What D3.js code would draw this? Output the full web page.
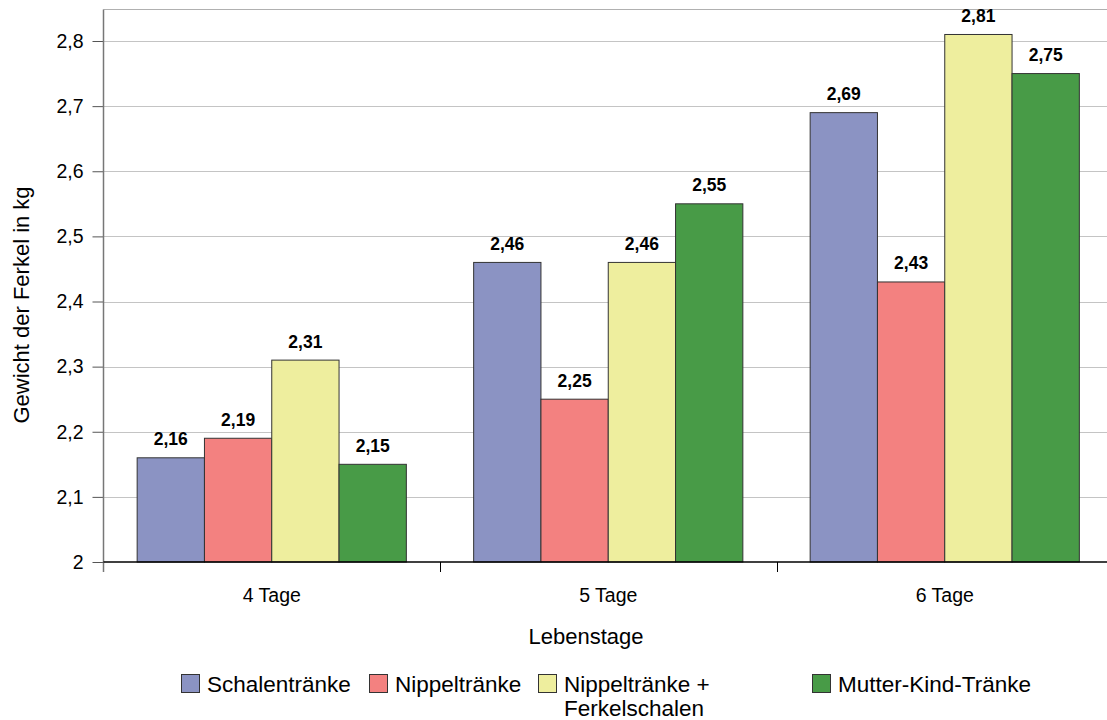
<!DOCTYPE html>
<html>
<head>
<meta charset="utf-8">
<script src="https://cdn.jsdelivr.net/npm/d3@7"></script>
<style>
  html, body { margin: 0; padding: 0; background: #fff; }
  svg { display: block; font-family: "Liberation Sans", Arial, sans-serif; }
</style>
</head>
<body>
<svg id="chart" width="1107" height="720"></svg>
<script>
// Ferkelgewicht nach Tränkesystem und Lebenstag
const categories = ["4 Tage", "5 Tage", "6 Tage"];
const seriesNames = ["Schalentränke", "Nippeltränke", "Nippeltränke + Ferkelschalen", "Mutter-Kind-Tränke"];
const schalentraenke = [2.16, 2.46, 2.69];
const nippeltraenke = [2.19, 2.25, 2.43];
const nippelFerkelschalen = [2.31, 2.46, 2.81];
const mutterKind = [2.15, 2.55, 2.75];
const yTicks = [2, 2.1, 2.2, 2.3, 2.4, 2.5, 2.6, 2.7, 2.8];
const colors = ["#8b93c3", "#f38180", "#eeee9e", "#489b47"];

const seriesValues = [schalentraenke, nippeltraenke, nippelFerkelschalen, mutterKind];

const svg = d3.select("#chart");
const plotLeft = 103.5, plotRight = 1113, plotTop = 9.5, plotBottom = 562;

const x = d3.scaleBand().domain(categories).range([plotLeft, plotRight]).paddingInner(0.2).paddingOuter(0.1);
const xs = d3.scaleBand().domain(d3.range(seriesNames.length)).range([0, x.bandwidth()]);
const y = d3.scaleLinear().domain([2, 2.8]).range([plotBottom, 41]);

const fmt = v => d3.format(".2f")(v).replace(".", ",");
const fmtTick = v => d3.format("~g")(v).replace(".", ",");

// horizontal grid
svg.append("g").selectAll("line").data(yTicks.slice(1)).join("line")
  .attr("x1", plotLeft).attr("x2", 1107)
  .attr("y1", d => Math.round(y(d)) + 0.5).attr("y2", d => Math.round(y(d)) + 0.5)
  .attr("stroke", "#c4c4c4").attr("stroke-width", 1);
// top frame
svg.append("line").attr("x1", plotLeft).attr("x2", 1107).attr("y1", plotTop).attr("y2", plotTop)
  .attr("stroke", "#b0b0b0");

// bars with value labels
const groups = svg.append("g").selectAll("g").data(categories).join("g")
  .attr("transform", d => `translate(${x(d)},0)`);

groups.each(function(cat, ci) {
  const g = d3.select(this);
  seriesValues.forEach((vals, si) => {
    const v = vals[ci];
    g.append("rect")
      .attr("x", xs(si)).attr("width", xs.bandwidth())
      .attr("y", y(v)).attr("height", y(2) - y(v))
      .attr("fill", colors[si]).attr("stroke", "#333").attr("stroke-width", 1);
    g.append("text")
      .attr("x", xs(si) + xs.bandwidth() / 2).attr("y", y(v) - 12.5)
      .attr("text-anchor", "middle").attr("font-weight", "bold").attr("font-size", 17.5)
      .attr("fill", "#000").text(fmt(v));
  });
});

// y axis
const yAxis = d3.axisLeft(y).tickValues(yTicks).tickFormat(fmtTick).tickSize(11).tickPadding(9);
const gy = svg.append("g").attr("transform", `translate(${plotLeft},0)`).call(yAxis);
gy.select(".domain").remove();
gy.selectAll(".tick line").attr("stroke", "#555");
gy.selectAll(".tick text").attr("font-size", 19.5).attr("fill", "#000")
  .attr("font-family", "Liberation Sans, Arial, sans-serif");
svg.append("line").attr("x1", plotLeft).attr("x2", plotLeft).attr("y1", plotTop).attr("y2", plotBottom + 10)
  .attr("stroke", "#777").attr("stroke-width", 1.5);

// x axis
svg.append("line").attr("x1", plotLeft).attr("x2", 1107).attr("y1", plotBottom).attr("y2", plotBottom)
  .attr("stroke", "#000").attr("stroke-width", 1.5);
const step = x.step();
svg.append("g").selectAll("line").data(categories.slice(1)).join("line")
  .attr("x1", d => Math.round(x(d) - step * 0.1) + 0.5).attr("x2", d => Math.round(x(d) - step * 0.1) + 0.5)
  .attr("y1", plotBottom).attr("y2", plotBottom + 10).attr("stroke", "#000");
svg.append("g").selectAll("text").data(categories).join("text")
  .attr("x", d => x(d) + x.bandwidth() / 2).attr("y", 601.5)
  .attr("text-anchor", "middle").attr("font-size", 19.5).attr("fill", "#000").text(d => d);

// axis titles
svg.append("text").attr("x", 586).attr("y", 644).attr("text-anchor", "middle")
  .attr("font-size", 22).text("Lebenstage");
svg.append("text").attr("transform", "translate(29,305) rotate(-90)").attr("text-anchor", "middle")
  .attr("font-size", 22).text("Gewicht der Ferkel in kg");

// legend
const legendItems = [
  { x: 181, lines: ["Schalentränke"] },
  { x: 369, lines: ["Nippeltränke"] },
  { x: 538, lines: ["Nippeltränke +", "Ferkelschalen"] },
  { x: 812, lines: ["Mutter-Kind-Tränke"] }
];
const lg = svg.append("g").selectAll("g").data(legendItems).join("g")
  .attr("transform", d => `translate(${d.x},0)`);
lg.append("rect").attr("x", 0.5).attr("y", 674.5).attr("width", 18).attr("height", 18)
  .attr("fill", (d, i) => colors[i]).attr("stroke", "#333");
lg.append("text").attr("x", 26).attr("y", 692).attr("font-size", 22.5).attr("fill", "#000")
  .selectAll("tspan").data(d => d.lines).join("tspan")
  .attr("x", 26).attr("dy", (d, i) => i === 0 ? 0 : 24).text(d => d);
</script>
</body>
</html>
